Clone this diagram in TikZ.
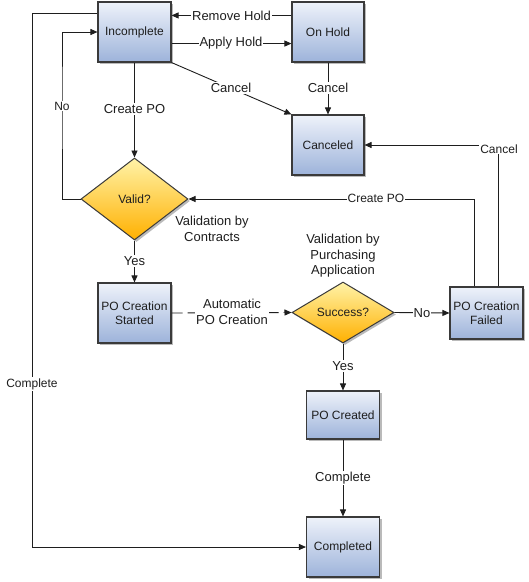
\documentclass[tikz,border=0pt]{standalone}
\usepackage{fontspec}
\setmainfont{Liberation Sans}
\usetikzlibrary{arrows.meta,shapes.geometric,shadows}
\definecolor{boxtop}{HTML}{EEF2FA}
\definecolor{boxbot}{HTML}{9DB3DA}
\definecolor{dtop}{HTML}{FFF3A8}
\definecolor{dbot}{HTML}{FFB000}
\definecolor{edge}{HTML}{3A3A3A}
\definecolor{ink}{HTML}{1E1E1E}
\tikzset{
  state/.style={draw=edge, line width=1.1pt, shading=axis, top color=boxtop, bottom color=boxbot,
    minimum width=73pt, minimum height=60pt, inner sep=1pt, align=center,
    font=\fontsize{12}{14}\selectfont, text=ink,
    drop shadow={shadow xshift=2pt, shadow yshift=-2pt, fill=black!45, opacity=0.6}},
  decision/.style={diamond, aspect=1.4, draw=edge, line width=1pt, shading=axis, top color=dtop, bottom color=dbot,
    inner sep=0pt, align=center, font=\fontsize{12}{14}\selectfont, text=ink,
    drop shadow={shadow xshift=2pt, shadow yshift=-2pt, fill=black!45, opacity=0.6}},
  link/.style={draw=ink, line width=0.9pt},
  arr/.style={link, -{Triangle[length=7pt,width=6pt]}},
  lbl/.style={fill=white, inner sep=1pt, align=center, text=ink, font=\fontsize{13}{16}\selectfont},
  slbl/.style={lbl, font=\fontsize{12}{14}\selectfont},
}
\begin{document}
\begin{tikzpicture}[x=1pt,y=-1pt]
\useasboundingbox[fill=white] (0,0) rectangle (529,582);
% nodes
\node[state] (inc) at (134.5,32) {Incomplete};
\node[state, minimum width=72pt] (hold) at (328,32) {On Hold};
\node[state, minimum width=72pt] (canc) at (328,145) {Canceled};
\node[decision, minimum width=107pt, minimum height=82pt] (valid) at (134.5,199) {Valid?};
\node[state] (started) at (134.5,313) {PO Creation\\Started};
\node[decision, minimum width=102pt, minimum height=61pt] (success) at (343,312.5) {Success?};
\node[state, minimum height=52pt] (failed) at (486.5,313) {PO Creation\\Failed};
\node[state, minimum height=48pt] (created) at (343,415) {PO Created};
\node[state] (completed) at (343,547) {Completed};
\coordinate (lft) at (32,300);
\coordinate (nox) at (62,100);
% connectors
\draw[arr] ([yshift=-12pt]inc.north west) -| (lft |- completed.west) -- (completed.west);
\draw[arr] (valid.west) -| (nox) |- (inc.west);
\draw[arr] ([yshift=-14pt]hold.north west) -- ([yshift=-14pt]inc.north east);
\draw[arr] ([yshift=19pt]inc.south east) -- ([yshift=19pt]hold.south west);
\draw[arr] (inc.south east) -- (canc.north west);
\draw[arr] (hold.south) -- (canc.north);
\draw[arr] (inc.south) -- (valid.north);
\draw[arr] (valid.south) -- (started.north);
\draw[arr, dash pattern=on 11pt off 5pt] (started.east) -- (success.west);
\draw[arr] (success.east) -- (failed.west);
\draw[arr] (success.south) -- (created.north);
\draw[arr] (created.south) -- (completed.north);
\draw[arr] ([xshift=-12.5pt]failed.north) |- (valid.east);
\draw[arr] ([xshift=11.5pt]failed.north) |- (canc.east);
% labels
\node[slbl] (lcomplete) at (32,384) {Complete};
\node[slbl] (lno) at (62,106) {No};
\node[lbl] (lremove) at (231.5,16) {Remove Hold};
\node[lbl] (lapply) at (231,43) {Apply Hold};
\node[lbl] (lcancel1) at (231,88) {Cancel};
\node[lbl] (lcancel2) at (328,88) {Cancel};
\node[lbl] (lcreate1) at (134.5,109) {Create PO};
\node[lbl] (lyes1) at (134.5,261) {Yes};
\node[lbl] (lvc) at (212,229) {Validation by\\Contracts};
\node[lbl] (lauto) at (232,312) {Automatic\\PO Creation};
\node[lbl, font=\fontsize{13}{15.5}\selectfont] (lvp) at (343,256) {Validation by\\Purchasing\\Application};
\node[lbl] (lno2) at (422,313) {No};
\node[lbl] (lyes2) at (343,366) {Yes};
\node[lbl] (lcomplete2) at (343,478) {Complete};
\node[slbl] (lcreate2) at (376,198) {Create PO};
\node[slbl] (lcancel3) at (499,149) {Cancel};
\end{tikzpicture}
\end{document}
